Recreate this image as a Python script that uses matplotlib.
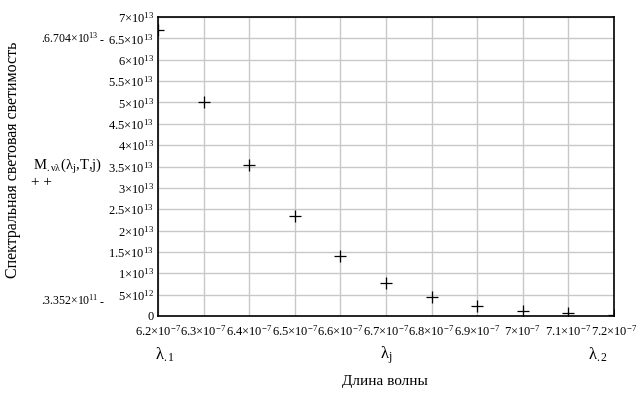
import matplotlib.pyplot as plt
from matplotlib.ticker import FixedLocator

plt.rcParams['font.family'] = ['Liberation Serif', 'DejaVu Serif']
plt.rcParams['mathtext.fontset'] = 'custom'
plt.rcParams['mathtext.rm'] = 'Liberation Serif'
plt.rcParams['mathtext.it'] = 'Liberation Serif'

# wavelength (m) and spectral luminosity
lam = [6.2e-7, 6.3e-7, 6.4e-7, 6.5e-7, 6.6e-7, 6.7e-7, 6.8e-7, 6.9e-7, 7.0e-7, 7.1e-7, 7.2e-7]
M = [6.704e13, 5.02e13, 3.54e13, 2.33e13, 1.41e13, 0.78e13, 0.445e13, 0.227e13, 0.11e13, 0.063e13, 3.352e11]

xticks = [6.2e-7, 6.3e-7, 6.4e-7, 6.5e-7, 6.6e-7, 6.7e-7, 6.8e-7, 6.9e-7, 7.0e-7, 7.1e-7, 7.2e-7]
xlabels = ['6.2×10$^{-7}$', '6.3×10$^{-7}$', '6.4×10$^{-7}$', '6.5×10$^{-7}$',
           '6.6×10$^{-7}$', '6.7×10$^{-7}$', '6.8×10$^{-7}$', '6.9×10$^{-7}$',
           '7×10$^{-7}$', '7.1×10$^{-7}$', '7.2×10$^{-7}$']
yticks = [0, 5e12, 1e13, 1.5e13, 2e13, 2.5e13, 3e13, 3.5e13, 4e13, 4.5e13, 5e13, 5.5e13, 6e13, 6.5e13, 7e13]
ylabels = ['0', '5×10$^{12}$', '1×10$^{13}$', '1.5×10$^{13}$', '2×10$^{13}$',
           '2.5×10$^{13}$', '3×10$^{13}$', '3.5×10$^{13}$', '4×10$^{13}$',
           '4.5×10$^{13}$', '5×10$^{13}$', '5.5×10$^{13}$', '6×10$^{13}$',
           '6.5×10$^{13}$', '7×10$^{13}$']

fig = plt.figure(figsize=(6.4, 4), dpi=100)
ax = fig.add_axes([158/640, 1-316/400, (614-158)/640, (316-17)/400])

ax.plot(lam, M, linestyle='none', marker='+', color='black', markersize=9, markeredgewidth=0.9)
ax.set_xlim(6.2e-7, 7.2e-7)
ax.set_ylim(0, 7e13)
ax.xaxis.set_major_locator(FixedLocator(xticks))
ax.yaxis.set_major_locator(FixedLocator(yticks))
ax.set_xticklabels(xlabels, fontsize=9)
ax.set_yticklabels(ylabels, fontsize=9)
ax.tick_params(axis='x', length=0, pad=6)
ax.tick_params(axis='y', length=0, pad=3)
ax.grid(True, color='#c8c8c8', linewidth=1)
ax.set_axisbelow(True)
for s in ax.spines.values():
    s.set_linewidth(1.2)
    s.set_color('black')

# Mathcad style annotations
fig.text(13/640, 1-160/400, 'Спектральная световая светимость', rotation=90,
         ha='center', va='center', fontsize=11.5)
fig.text(33/640, 1-166/400, 'M$_{.νλ}$(λ$_{j}$,T,j)', ha='left', va='center', fontsize=10.5)
fig.text(31/640, 1-183/400, '+ +', ha='left', va='center', fontsize=11)
fig.text(99/640, 1-38/400, '.6.704×10$^{13}$', ha='right', va='center', fontsize=8.5)
fig.text(100/640, 1-41/400, '-', ha='left', va='center', fontsize=8.5)
fig.text(99/640, 1-300/400, '.3.352×10$^{11}$', ha='right', va='center', fontsize=8.5)
fig.text(100/640, 1-303/400, '-', ha='left', va='center', fontsize=8.5)
fig.text(165/640, 1-355/400, 'λ$_{.1}$', ha='center', va='center', fontsize=12)
fig.text(386/640, 1-355/400, 'λ$_{j}$', ha='center', va='center', fontsize=12)
fig.text(598/640, 1-355/400, 'λ$_{.2}$', ha='center', va='center', fontsize=12)
fig.text(385/640, 1-382/400, 'Длина волны', ha='center', va='center', fontsize=11)

fig.savefig('out.png', dpi=100)
